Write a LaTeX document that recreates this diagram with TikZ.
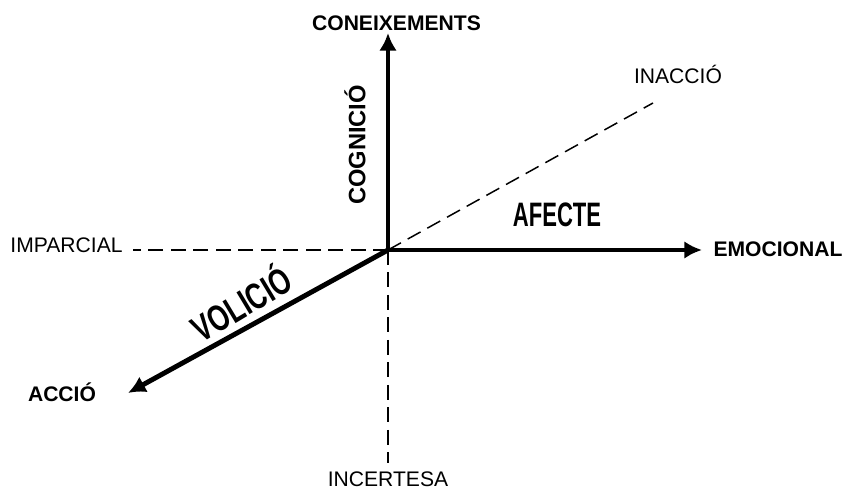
\documentclass[tikz,border=0pt]{standalone}
\usepackage{fontspec}
\setmainfont{Liberation Sans}
\usetikzlibrary{arrows.meta, positioning}

\tikzset{
    eix/.style={line width=2.8pt, ->},
    guia/.style={line width=0.85pt, dash pattern=on 8.4pt off 4.4pt},
    pol/.style={font=\fontsize{12}{14}\selectfont},
    polb/.style={font=\fontsize{12}{14}\selectfont\bfseries},
    dim/.style={font=\fontsize{19.3}{22}\selectfont\bfseries, inner sep=0pt}
}
\newcommand{\estret}[2][0.65]{\scalebox{#1}[1]{#2}}

\begin{document}
\begin{tikzpicture}[>={Latex[length=10pt,width=10pt]}, scale=1]
    \useasboundingbox (0,0) rectangle (16.96,10);
    % 1. Punts dels eixos
    \coordinate (O) at (7.76,5.0);
    \coordinate (dalt) at (7.76,9.34);
    \coordinate (dreta) at (14.04,5.0);
    \coordinate (baix) at (2.56,2.14);
    \coordinate (esq) at (2.66,5.0);
    \coordinate (sud) at (7.76,0.74);
    \coordinate (nord) at (13.06,7.94);

    % 2. Línies discontínues
    \draw[guia] (O) -- (esq);
    \draw[guia] (O) -- (sud);
    \draw[guia] (O) -- (nord);

    % 3. Eixos
    \draw[eix] (O) -- (dalt);
    \draw[eix] (O) -- (dreta);
    \draw[eix] (O) -- (baix);

    % 4. Etiquetes
    \node[polb] (coneix) at (7.93,9.53) {CONEIXEMENTS};
    \node[polb] (emoc) at (15.56,5.02) {EMOCIONAL};
    \node[polb] (accio) at (1.24,2.16) {ACCIÓ};
    \node[pol] (impar) at (1.33,5.09) {IMPARCIAL};
    \node[pol] (incert) at (7.76,0.42) {INCERTESA};
    \node[pol] (inaccio) at (13.56,8.52) {INACCIÓ};

    \node[font=\fontsize{13.5}{16}\selectfont\bfseries, rotate=90, inner sep=0pt] (cogn) at (7.10,7.10) {COGNICIÓ};
    \node[dim] (afecte) at (11.14,5.71) {\estret{AFECTE}};
    \node[dim, font=\fontsize{21}{24}\selectfont\bfseries, rotate=31] (volicio) at (4.80,3.96) {\estret[0.72]{VOLICIÓ}};
\end{tikzpicture}
\end{document}
